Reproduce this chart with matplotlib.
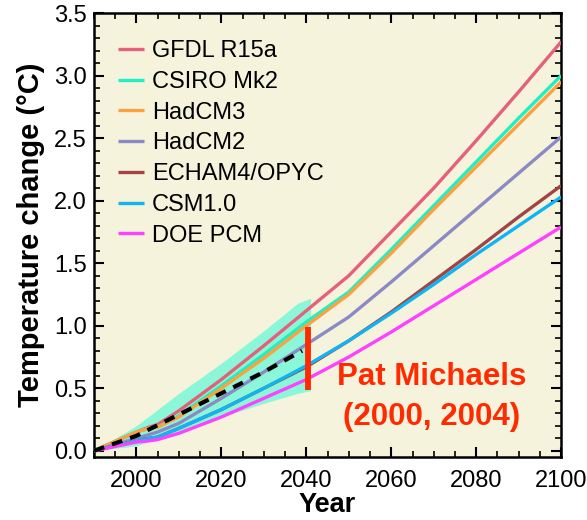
import numpy as np
import matplotlib
matplotlib.use('Agg')
import matplotlib.pyplot as plt
from matplotlib.ticker import MultipleLocator

plt.rcParams['font.family'] = ['Liberation Sans', 'DejaVu Sans']

# model projections (deg C relative to 1990)
years = [1990, 2000, 2003, 2005, 2010, 2020, 2030, 2040, 2050, 2060, 2070, 2080, 2090, 2100]
gfdl = [0, 0.15, 0.19, 0.21, 0.32, 0.57, 0.84, 1.12, 1.40, 1.75, 2.10, 2.48, 2.87, 3.27]
csiro = [0, 0.15, 0.18, 0.19, 0.28, 0.52, 0.77, 1.03, 1.27, 1.61, 1.96, 2.31, 2.66, 3.00]
hadcm3 = [0, 0.15, 0.18, 0.19, 0.27, 0.50, 0.74, 1.00, 1.25, 1.58, 1.93, 2.27, 2.61, 2.95]
hadcm2 = [0, 0.10, 0.13, 0.15, 0.22, 0.42, 0.63, 0.85, 1.07, 1.35, 1.64, 1.93, 2.22, 2.51]
echam = [0, 0.08, 0.10, 0.11, 0.18, 0.33, 0.50, 0.67, 0.88, 1.11, 1.36, 1.61, 1.87, 2.12]
csm = [0, 0.08, 0.10, 0.11, 0.18, 0.33, 0.50, 0.68, 0.88, 1.10, 1.33, 1.57, 1.80, 2.03]
doepcm = [0, 0.07, 0.08, 0.09, 0.14, 0.27, 0.42, 0.57, 0.75, 0.95, 1.16, 1.37, 1.58, 1.79]

models = ['GFDL R15a', 'CSIRO Mk2', 'HadCM3', 'HadCM2', 'ECHAM4/OPYC', 'CSM1.0', 'DOE PCM']
series = [gfdl, csiro, hadcm3, hadcm2, echam, csm, doepcm]
colors = ['#E5607A', '#1EF0C4', '#FFA040', '#8A8AC4', '#A04444', '#10B4F4', '#FF40FF']

# Michaels range and central estimate
band_years = [1990, 2000, 2010, 2015, 2020, 2030, 2038, 2041]
band_upper = [0, 0.20, 0.46, 0.58, 0.70, 0.96, 1.18, 1.22]
band_lower = [0, 0.04, 0.15, 0.21, 0.27, 0.38, 0.46, 0.48]
michaels_years = [1990, 2000, 2010, 2020, 2030, 2039]
michaels = [0, 0.12, 0.29, 0.46, 0.63, 0.80]
bar_year = 2040.5
bar_range = (0.49, 0.99)

fig = plt.figure(figsize=(5.87, 5.2), dpi=100)
ax = fig.add_axes([0.160, 0.121, 0.796, 0.854])
ax.set_facecolor('#F5F3DC')

ax.fill_between(band_years, band_lower, band_upper, color='#8CF7D8', lw=0, zorder=1)

for name, vals, c in zip(models, series, colors):
    ax.plot(years, vals, color=c, lw=2.4, label=name, zorder=3, solid_capstyle='butt')

ax.plot(michaels_years, michaels, color='black', lw=3, dashes=(2.6, 2.0), zorder=4)
ax.plot([bar_year, bar_year], bar_range, color='#FF2A00', lw=4.2, zorder=5, solid_capstyle='butt')

ax.text(2069.6, 0.43, 'Pat Michaels\n(2000, 2004)', color='#FF2A00', fontsize=22.5,
        fontweight='bold', ha='center', va='center', linespacing=1.42)

ax.set_xlim(1990, 2100)
ax.set_ylim(-0.05, 3.5)
ax.xaxis.set_major_locator(MultipleLocator(20))
ax.xaxis.set_minor_locator(MultipleLocator(5))
ax.yaxis.set_major_locator(MultipleLocator(0.5))
ax.yaxis.set_minor_locator(MultipleLocator(0.1))
ax.set_xticks([2000, 2020, 2040, 2060, 2080, 2100])
ax.yaxis.set_major_formatter(plt.FuncFormatter(lambda v, p: f'{v:.1f}'))

ax.tick_params(which='both', direction='in', top=True, right=True, labelsize=17)
ax.tick_params(which='major', length=7, width=1.5)
ax.tick_params(which='minor', length=4, width=1.2)
ax.tick_params(axis='x', pad=9)
ax.tick_params(axis='y', pad=5)
for s in ax.spines.values():
    s.set_linewidth(1.8)

ax.set_xlabel('Year', fontsize=19.5, fontweight='bold', labelpad=0)
ax.set_ylabel('Temperature change (°C)', fontsize=21, fontweight='bold', labelpad=7)

ax.legend(loc='upper left', frameon=False, fontsize=17, handlelength=1.1, handletextpad=0.34,
          labelspacing=0.37, borderaxespad=0.0, bbox_to_anchor=(0.031, 0.96))

fig.savefig('out.png', dpi=100)
